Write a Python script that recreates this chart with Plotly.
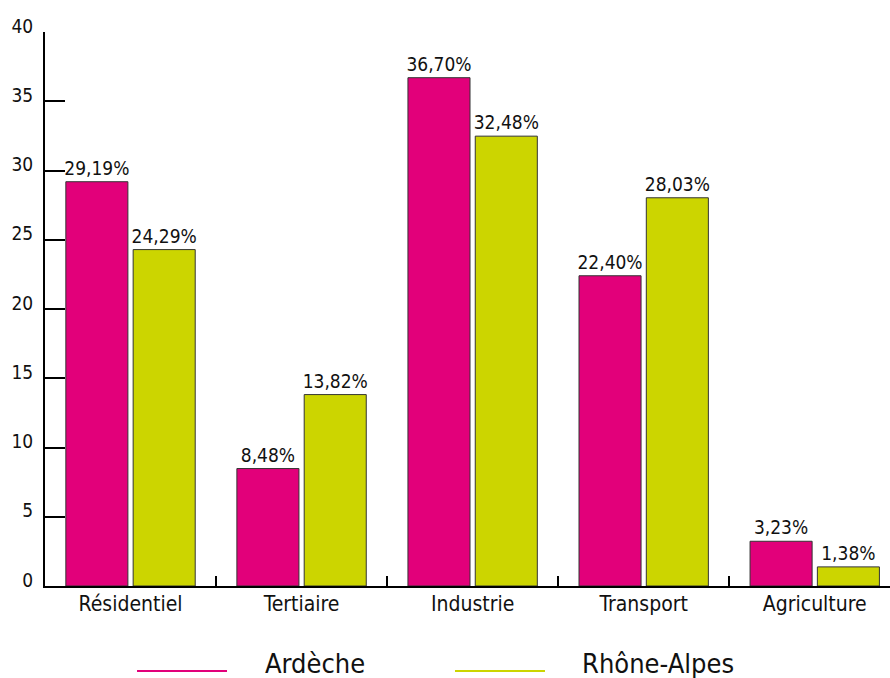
import plotly.graph_objects as go

categories = ["Résidentiel", "Tertiaire", "Industrie", "Transport", "Agriculture"]
ardeche = [29.19, 8.48, 36.70, 22.40, 3.23]
rhone_alpes = [24.29, 13.82, 32.48, 28.03, 1.38]
series_names = ["Ardèche", "Rhône-Alpes"]
y_ticks = [0, 5, 10, 15, 20, 25, 30, 35, 40]

PINK = "#E2007A"
GREEN = "#CCD500"
FONT = "DejaVu Sans Condensed, Roboto, sans-serif"


def pct(v):
    return f"{v:.2f}%".replace(".", ",")


fig = go.Figure()
for name, vals, col in [(series_names[0], ardeche, PINK), (series_names[1], rhone_alpes, GREEN)]:
    fig.add_trace(go.Bar(
        x=categories, y=vals, name=name,
        marker=dict(color=col, line=dict(color="#333333", width=1)),
        text=[pct(v) for v in vals], textposition="outside",
        textfont=dict(family=FONT, size=19, color="#111111"),
        constraintext="none", cliponaxis=False,
        showlegend=False,
    ))

fig.update_layout(
    width=890, height=678,
    margin=dict(l=45, r=0, t=32, b=92),
    paper_bgcolor="white", plot_bgcolor="white",
    barmode="group", bargap=0.213, bargroupgap=0.078,
    font=dict(family=FONT, size=19, color="#111111"),
    showlegend=False,
)
fig.update_xaxes(
    range=[-0.5, 4.44], showline=True, linecolor="black", linewidth=2,
    ticks="inside", tickson="boundaries", ticklen=10, tickwidth=2, tickcolor="black",
    showgrid=False, tickfont=dict(family=FONT, size=21), ticklabelstandoff=-2,
)
fig.update_yaxes(
    range=[0, 40], tickvals=y_ticks, showline=True, linecolor="black", linewidth=2,
    ticks="inside", ticklen=20, tickwidth=2, tickcolor="black",
    showgrid=False, zeroline=False, tickfont=dict(family=FONT, size=19),
    ticklabelstandoff=6, ticklabelshift=-6,
)

# legend drawn as long colour strokes with labels below the chart
legend_items = [(series_names[0], PINK, 0.1089, 0.2154, 0.258),
                (series_names[1], GREEN, 0.4852, 0.5917, 0.633)]
for name, col, x0, x1, xt in legend_items:
    fig.add_shape(type="line", xref="paper", yref="paper", x0=x0, x1=x1,
                  y0=-0.1534, y1=-0.1534, line=dict(color=col, width=2))
    fig.add_annotation(xref="paper", yref="paper", x=xt, y=-0.14, text=name,
                       showarrow=False, xanchor="left", yanchor="middle",
                       font=dict(family=FONT, size=27, color="#111111"))

fig.write_html("out.html")
